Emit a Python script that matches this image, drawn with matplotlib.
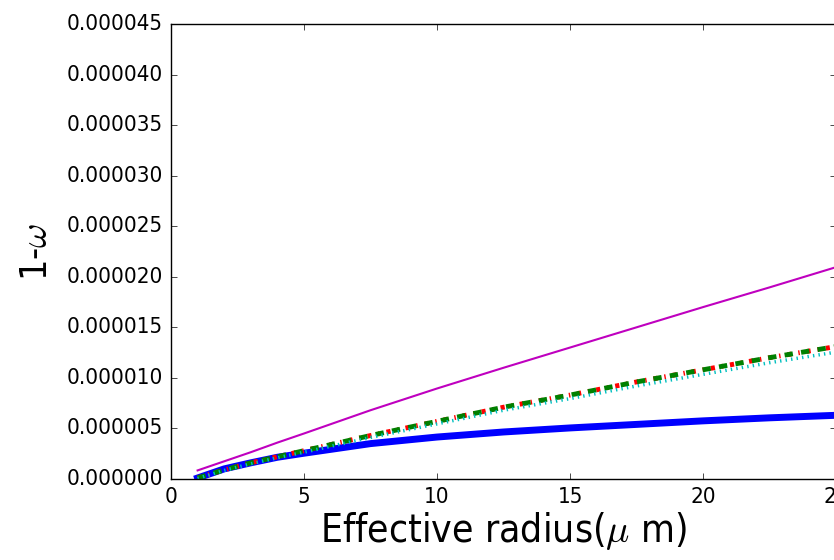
import numpy as np
import matplotlib
matplotlib.use('Agg')
import matplotlib.pyplot as plt

plt.style.use('classic')
plt.rcParams['font.family'] = 'DejaVu Sans'
plt.rcParams['font.stretch'] = 'condensed'

# effective radius (um)
radius = [1, 2, 3, 4, 5, 7.5, 10, 12.5, 15, 17.5, 20, 22.5, 25]

# 1 - omega values (x 1e-6)
blue_vals = [0.1, 1.0, 1.6, 2.15, 2.55, 3.5, 4.15, 4.65, 5.05, 5.4, 5.75, 6.05, 6.3]
red_vals = [0.1, 0.9, 1.6, 2.2, 2.8, 4.3, 5.7, 7.1, 8.3, 9.6, 10.8, 12.0, 13.1]
green_vals = [0.1, 0.9, 1.6, 2.2, 2.8, 4.3, 5.7, 7.1, 8.3, 9.6, 10.8, 12.0, 13.1]
cyan_vals = [0.05, 0.85, 1.5, 2.1, 2.65, 4.1, 5.45, 6.8, 7.95, 9.2, 10.35, 11.5, 12.55]
magenta_vals = [0.85, 1.75, 2.65, 3.6, 4.5, 6.8, 8.95, 11.0, 13.0, 15.0, 17.0, 18.95, 20.95]

scale = 1e-6

fig = plt.figure(figsize=(8.34, 5.6), dpi=100, facecolor='white')
ax = fig.add_axes([171/834, 81/560, 665/834, 455/560])

x = np.array(radius)
ax.plot(x, np.array(blue_vals)*scale, color='b', lw=5, ls='-')
ax.plot(x, np.array(red_vals)*scale, color='r', lw=3.5, ls='-.')
ax.plot(x, np.array(green_vals)*scale, color='g', lw=3.5, ls='--')
ax.plot(x, np.array(cyan_vals)*scale, color='c', lw=2.5, ls=':')
ax.plot(x, np.array(magenta_vals)*scale, color='m', lw=1.5, ls='-')

ax.set_xlim(0, 25)
ax.set_ylim(0, 0.000045)
yt = np.arange(0, 0.0000451, 0.000005)
ax.set_yticks(yt)
ax.set_yticklabels(['%.6f' % v for v in yt])
ax.set_xticks([0, 5, 10, 15, 20, 25])
ax.tick_params(labelsize=16, pad=6)

ax.set_xlabel(r'Effective radius($\mu$ m)', fontsize=28, labelpad=2)
ax.set_ylabel(r'1-$\omega$', fontsize=27, labelpad=8)

fig.savefig('out.png', dpi=100, facecolor='white')
